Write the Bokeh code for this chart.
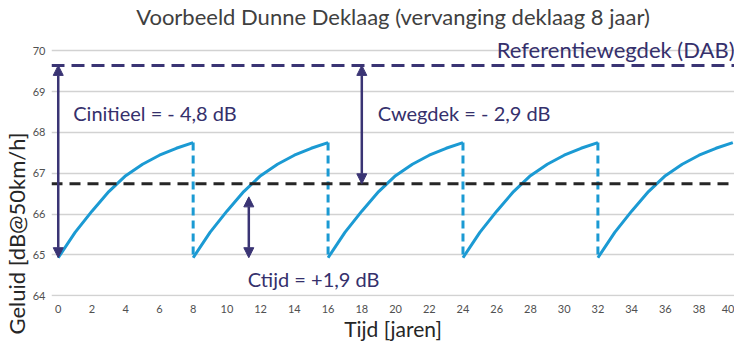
from bokeh.plotting import figure
from bokeh.models import (Range1d, FixedTicker, Label, Span, Arrow, NormalHead, Title)
from bokeh.embed import file_html
from bokeh.resources import INLINE

# ---- data ----
cycle_start = [0, 8, 16, 24, 32]          # year a new top layer is laid
cycle_end = [8, 16, 24, 32, 40]
age = [0, 1, 2, 3, 4, 5, 6, 7, 8]          # years since laying
level = [64.93, 65.55, 66.07, 66.55, 66.94, 67.22, 67.44, 67.61, 67.75]  # dB

reference_level = 69.64   # Referentiewegdek (DAB)
average_level = 66.74     # time-averaged level
ctijd_year = 11.3
cwegdek_year = 18.0
ctijd_top = 66.42

x_ticks = list(range(0, 41, 2))
y_ticks = [64, 65, 66, 67, 68, 69, 70]

title_text = "Voorbeeld Dunne Deklaag (vervanging deklaag 8 jaar)"
x_label = "Tijd [jaren]"
y_label = "Geluid [dB@50km/h]"
ref_label = "Referentiewegdek (DAB)"
cinit_label = "Cinitieel = - 4,8 dB"
cwegdek_label = "Cwegdek = - 2,9 dB"
ctijd_label = "Ctijd = +1,9 dB"

# ---- styling ----
FONT = "Lato"
BLUE = "#1b9ad3"
PURPLE = "#3a3474"
TXT = "#35306c"
DARK = "#262626"

p = figure(width=734, height=343, output_backend="svg", toolbar_location=None,
           x_range=Range1d(-0.40, 40.1), y_range=Range1d(63.98, 70.47),
           min_border=0, min_border_left=50, min_border_right=0, min_border_top=31,
           min_border_bottom=46, outline_line_color=None)

p.title = Title(text=title_text, align="center", vertical_align="top",
                text_font=FONT, text_font_size="22px", text_font_style="normal",
                text_color="#404040", standoff=0, text_line_height=1.0)

# y axis label as a left-side title, shifted down like in the reference
p.add_layout(Title(text=y_label, align="left", offset=-38, standoff=0,
                   text_font=FONT, text_font_size="22px", text_font_style="normal",
                   text_color="#262626", text_line_height=1.0), "left")

# axes
p.xaxis.ticker = FixedTicker(ticks=x_ticks)
p.yaxis.ticker = FixedTicker(ticks=y_ticks)
for ax in (p.xaxis[0], p.yaxis[0]):
    ax.axis_line_color = None
    ax.major_tick_line_color = None
    ax.minor_tick_line_color = None
    ax.major_tick_out = 0
    ax.major_tick_in = 0
    ax.major_label_text_font = FONT
    ax.major_label_text_font_size = "11px"
    ax.major_label_text_color = "#505050"
    ax.major_label_text_line_height = 1.0
    ax.axis_label_text_line_height = 1.0
p.xaxis.major_label_standoff = 8
p.yaxis.major_label_standoff = 6
p.yaxis.major_label_text_baseline = "alphabetic"
p.xaxis.axis_label = x_label
p.xaxis.axis_label_text_font = FONT
p.xaxis.axis_label_text_font_size = "21px"
p.xaxis.axis_label_text_font_style = "normal"
p.xaxis.axis_label_text_color = "#262626"
p.xaxis.axis_label_standoff = 0

p.xgrid.grid_line_color = None
p.ygrid.grid_line_color = "#d2d2d2"
p.ygrid.grid_line_width = 1.5

# horizontal reference lines
p.add_layout(Span(location=reference_level, dimension="width", line_color=PURPLE,
                  line_width=3, line_dash="13 7"))
p.add_layout(Span(location=average_level, dimension="width", line_color=DARK,
                  line_width=3, line_dash="11 7"))

# noise curves per cycle
for s in cycle_start:
    xs = [s + a for a in age]
    p.line(xs, level, line_color=BLUE, line_width=3)

# vertical drops at resurfacing
p.segment(x0=cycle_end[:-1], y0=[level[-1]] * 4, x1=cycle_end[:-1], y1=[level[0]] * 4,
          line_color=BLUE, line_width=3, line_dash="8 5")

# arrows
def darrow(x, y0, y1):
    p.add_layout(Arrow(x_start=x, y_start=y0, x_end=x, y_end=y1,
                       line_color=PURPLE, line_width=2.5,
                       start=NormalHead(size=10, fill_color=PURPLE, line_color=PURPLE),
                       end=NormalHead(size=10, fill_color=PURPLE, line_color=PURPLE)))

darrow(cycle_start[0], level[0], reference_level)
darrow(cwegdek_year, average_level, reference_level)
darrow(ctijd_year, level[0], ctijd_top)

# text annotations
def lab(text, x, y, align="left", xo=0, size="20px", baseline="middle"):
    p.add_layout(Label(x=x, y=y, text=text, text_font=FONT, text_font_size=size,
                       text_color=TXT, text_align=align, text_baseline=baseline,
                       x_offset=xo))

lab(cinit_label, cycle_start[0], 68.47, xo=15)
lab(cwegdek_label, cwegdek_year, 68.47, xo=16)
lab(ctijd_label, ctijd_year, 64.42, xo=-1)
lab(ref_label, 40.1, 70.04, align="right", size="22px", baseline="middle")

open("out.html", "w").write(file_html(p, INLINE))
